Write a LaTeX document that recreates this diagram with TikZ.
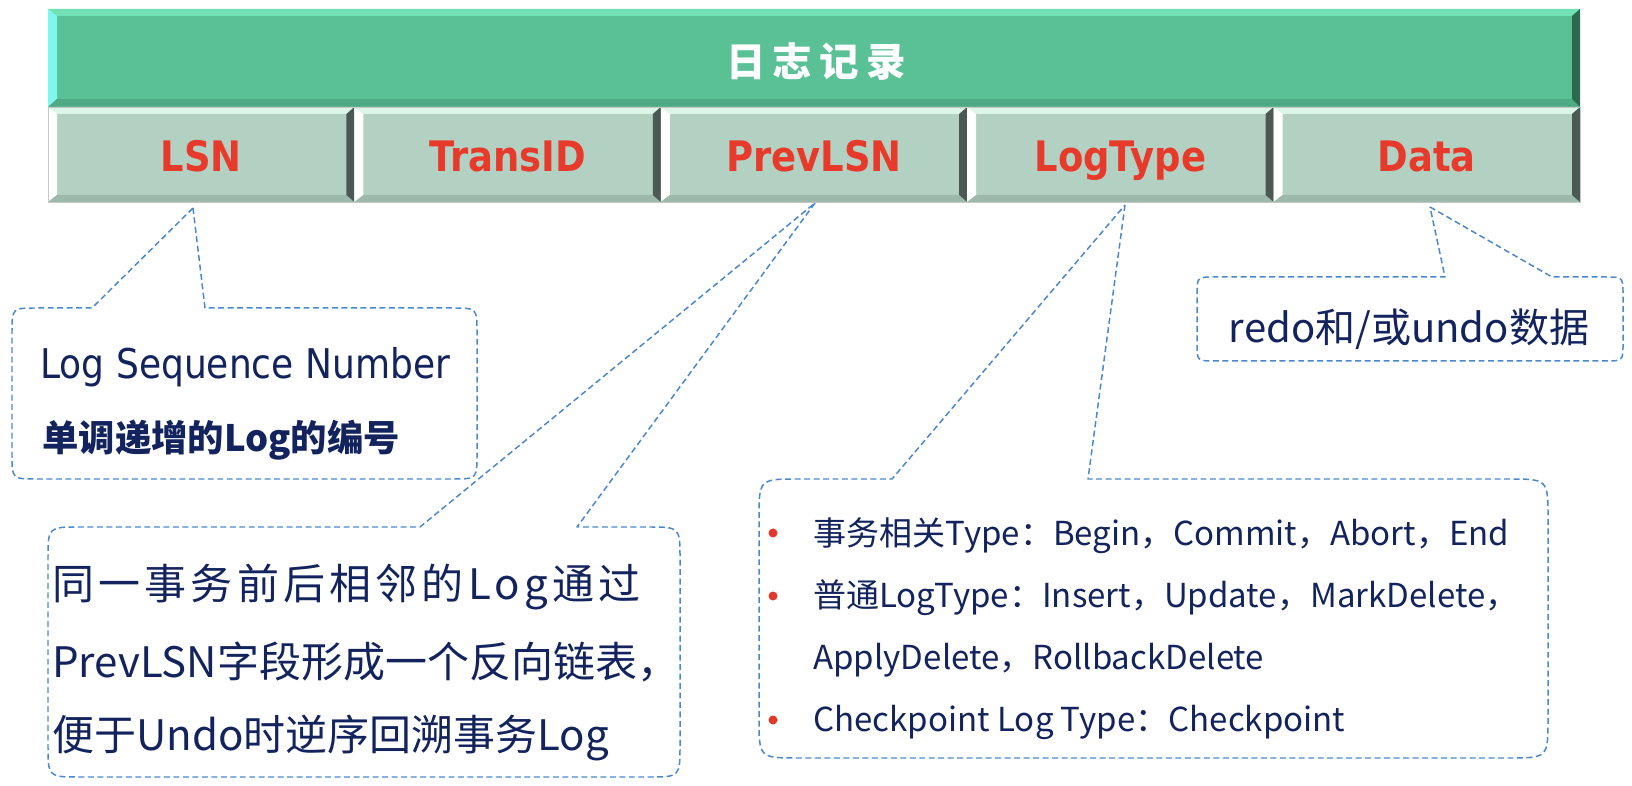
\documentclass[tikz,border=0pt]{standalone}
\usepackage{fontspec}
\newfontfamily\tahoma{DejaVu Sans}[FakeStretch=0.88]
\newfontfamily\cjk{Noto Sans CJK SC}
\definecolor{barface}{HTML}{5AC197}
\definecolor{bartop}{HTML}{72E2B6}
\definecolor{barleft}{HTML}{7EF8EE}
\definecolor{barbottom}{HTML}{4DAA85}
\definecolor{barright}{HTML}{2C6A50}
\definecolor{cellface}{HTML}{B3D1C3}
\definecolor{celltop}{HTML}{DCF5E9}
\definecolor{cellbottom}{HTML}{9DB9AC}
\definecolor{cellright}{HTML}{4A5953}
\definecolor{fieldred}{HTML}{E83A2B}
\definecolor{navy}{HTML}{12235E}
\definecolor{dashblue}{HTML}{4A88CC}
\definecolor{dotred}{HTML}{E4372C}

\begin{document}
\begin{tikzpicture}[x=0.02cm,y=-0.02cm,
  field/.style={font={\tahoma\bfseries\fontsize{23.9}{28}\selectfont},text=fieldred,anchor=base,inner sep=0pt},
  title/.style={font={\cjk\bfseries\fontsize{22.5}{26}\selectfont},text=white,inner sep=0pt},
  callout/.style={draw=dashblue,line width=0.85pt,dash pattern=on 3.4pt off 2pt,line join=round},
  note/.style={text=navy,anchor=base west,inner sep=0pt},
  bignote/.style={note,font={\cjk\fontsize{23.9}{28}\selectfont}},
  listnote/.style={note,font={\cjk\fontsize{18.8}{23}\selectfont}},
  bullet/.style={fill=dotred,draw=none},
]
\useasboundingbox (0,0) rectangle (1632,786);

% header bar
\fill[barface] (48,9) rectangle (1580,107);
\fill[bartop] (48,9) -- (1580,9) -- (1572,16) -- (56,16) -- cycle;
\fill[barleft] (48,9) -- (57,16) -- (57,99) -- (48,107) -- cycle;
\fill[barbottom] (48,107) -- (57,99) -- (1572,99) -- (1580,107) -- cycle;
\fill[barright] (1580,9) -- (1580,107) -- (1572,99) -- (1572,16) -- cycle;
\node[title] (title) at (816,62) {日\hspace{4pt}志\hspace{4pt}记\hspace{4pt}录};

% field cells
\foreach \name/\txt [count=\i from 0] in {lsn/LSN,transid/TransID,prevlsn/PrevLSN,logtype/LogType,data/Data}{
  \pgfmathsetmacro\xa{48+306.4*\i}
  \pgfmathsetmacro\xb{\xa+306.4}
  \fill[cellface] (\xa,107) rectangle (\xb,202);
  \fill[celltop] (\xa,107) -- (\xb,107) -- (\xb-8,114) -- (\xa+9,114) -- cycle;
  \fill[white] (\xa,107) -- (\xa+9,114) -- (\xa+9,195) -- (\xa,202) -- cycle;
  \fill[cellbottom] (\xa,202) -- (\xa+9,195) -- (\xb-8,195) -- (\xb,202) -- cycle;
  \fill[cellright] (\xb,107) -- (\xb,202) -- (\xb-8,195) -- (\xb-8,114) -- cycle;
  \node[field] (\name) at ({(\xa+\xb)/2},172) {\txt};
}
\draw[black!22,line width=0.4pt] (48,107) rectangle (1580,202);

% callout for LSN
\draw[callout] (193,208) -- (205,308) -- (452,308) .. controls (477,308) .. (477,333)
  -- (477,454) .. controls (477,479) .. (452,479) -- (37,479) .. controls (12,479) .. (12,454)
  -- (12,333) .. controls (12,308) .. (37,308) -- (92,308) -- cycle;
\node[note,font={\tahoma\fontsize{23.3}{28}\selectfont}] (lsnname) at (40,379) {Log Sequence Number};
\node[note,font={\cjk\bfseries\fontsize{20.7}{25}\selectfont}] (lsndesc) at (42,452) {单调递增的Log的编号};

% callout for PrevLSN
\draw[callout] (815,203) -- (577,527) -- (648,527) .. controls (680,527) .. (680,559)
  -- (680,745) .. controls (680,777) .. (648,777) -- (80,777) .. controls (48,777) .. (48,745)
  -- (48,559) .. controls (48,527) .. (80,527) -- (420,527) -- cycle;
\node[bignote] (prev1) at (52,600) {\addfontfeatures{LetterSpace=10}同一事务前后相邻的Log通过};
\node[bignote] (prev2) at (52,677) {PrevLSN字段形成一个反向链表，};
\node[bignote] (prev3) at (52,750) {便于Undo时逆序回溯事务Log};

% callout for LogType
\draw[callout] (1125,205) -- (1088,479) -- (1508,479) .. controls (1548,479) .. (1548,519)
  -- (1548,718) .. controls (1548,758) .. (1508,758) -- (799,758) .. controls (759,758) .. (759,718)
  -- (759,519) .. controls (759,479) .. (799,479) -- (892,479) -- cycle;
\foreach \y in {533,596,720}{\fill[bullet] (773,\y) circle[radius=4.5];}
\node[listnote] (type1) at (813,546) {事务相关Type：Begin，Commit，Abort，End};
\node[listnote] (type2) at (813,607) {普通LogType：Insert，Update，MarkDelete，};
\node[listnote] (type3) at (813,669) {ApplyDelete，RollbackDelete};
\node[listnote] (type4) at (813,731) {Checkpoint Log Type：Checkpoint};

% callout for Data
\draw[callout] (1430,207) -- (1552,277) -- (1605,277) .. controls (1623,277) .. (1623,295)
  -- (1623,343) .. controls (1623,361) .. (1605,361) -- (1215,361) .. controls (1197,361) .. (1197,343)
  -- (1197,295) .. controls (1197,277) .. (1215,277) -- (1445,277) -- cycle;
\node[note,anchor=base,font={\cjk\fontsize{22.8}{27}\selectfont}] (datanote) at (1409,343) {redo和/或undo数据};
\end{tikzpicture}
\end{document}
